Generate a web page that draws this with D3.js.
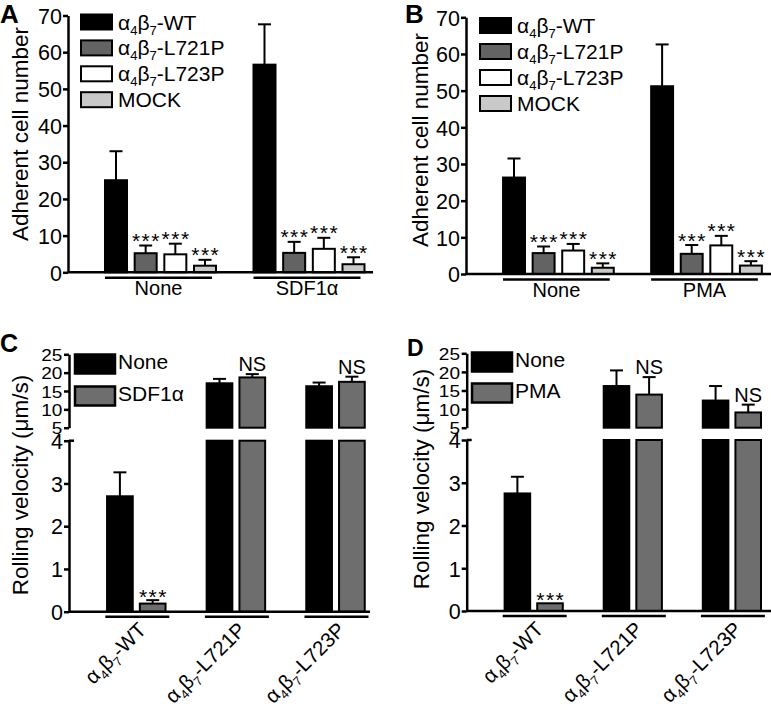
<!DOCTYPE html>
<html>
<head>
<meta charset="utf-8">
<script src="https://cdn.jsdelivr.net/npm/d3@7"></script>
<style>
html,body{margin:0;padding:0;background:#fff;}
svg{display:block;}
text{font-family:"Liberation Sans",Arial,Helvetica,sans-serif;fill:#000;}
</style>
</head>
<body>
<svg id="chart" width="771" height="710"></svg>
<script>
// ---------- DATA ----------
const seriesAB = ["α4β7-WT", "α4β7-L721P", "α4β7-L723P", "MOCK"];
const fillsAB = ["#000000", "#636363", "#ffffff", "#c9c9c9"];
const groupsA = ["None", "SDF1α"];
const meanA = [[25.1, 5.2, 4.9, 1.8], [56.6, 5.3, 6.4, 2.2]];
const errA = [[33.0, 7.3, 7.8, 3.4], [67.6, 8.3, 9.4, 4.1]];
const markA = [["", "***", "***", "***"], ["", "***", "***", "***"]];
const groupsB = ["None", "PMA"];
const meanB = [[26.3, 5.7, 6.4, 1.7], [51.2, 5.5, 7.8, 2.3]];
const errB = [[31.5, 7.5, 8.2, 2.9], [62.6, 7.9, 10.4, 3.5]];
const markB = [["", "***", "***", "***"], ["", "***", "***", "***"]];
const ticksAB = [0, 10, 20, 30, 40, 50, 60, 70];

const groupsCD = ["α4β7-WT", "α4β7-L721P", "α4β7-L723P"];
const fillsCD = ["#000000", "#6e6e6e"];
const seriesC = ["None", "SDF1α"];
const meanC = [[2.70, 0.19], [17.1, 18.7], [16.3, 17.5]];
const errC = [[3.26, 0.27], [18.3, 19.6], [17.3, 18.9]];
const markC = [["", "***"], ["", "NS"], ["", "NS"]];
const seriesD = ["None", "PMA"];
const meanD = [[2.75, 0.18], [16.2, 13.9], [12.3, 9.1]];
const errD = [[3.14, null], [20.4, 18.6], [16.2, 11.2]];
const markD = [["", "***"], ["", "NS"], ["", "NS"]];
const ticksLow = [0, 1, 2, 3, 4];
const ticksHigh = [5, 10, 15, 20, 25];

// ---------- HELPERS ----------
const svg = d3.select("#chart");
const FONT = "'Liberation Sans', Arial, Helvetica, sans-serif";

function richText(sel, str, subSize) {
  // digits right after α / β are subscripts
  const re = /([αβ])(\d)/g;
  let last = 0, m, lowered = false;
  const parts = [];
  while ((m = re.exec(str)) !== null) {
    parts.push({t: str.slice(last, m.index) + m[1], sub: false});
    parts.push({t: m[2], sub: true});
    last = m.index + m[0].length;
  }
  parts.push({t: str.slice(last), sub: false});
  parts.forEach(p => {
    if (!p.t) return;
    const ts = sel.append("tspan").text(p.t);
    if (p.sub) {
      ts.style("font-size", subSize + "px");
      if (!lowered) { ts.attr("dy", 5); lowered = true; }
    } else if (lowered) { ts.attr("dy", -5); lowered = false; }
  });
}

function errBar(g, cx, yTop, yBot) {
  g.append("line").attr("x1", cx).attr("x2", cx).attr("y1", yTop).attr("y2", yBot)
    .attr("stroke", "#000").attr("stroke-width", 2);
  g.append("line").attr("x1", cx - 6.5).attr("x2", cx + 6.5).attr("y1", yTop).attr("y2", yTop)
    .attr("stroke", "#000").attr("stroke-width", 2);
}

function styleAxis(ax, size) {
  ax.attr("font-family", FONT).attr("font-size", size);
  ax.select(".domain").attr("stroke-width", 2.5);
  ax.selectAll(".tick line").attr("stroke-width", 2.5);
  ax.selectAll(".tick text").style("font-size", size + "px").style("font-family", FONT).attr("dy", "0.36em");
}

// ---------- PANELS A / B ----------
function adhesionPanel(opt) {
  const g = svg.append("g");
  const y = d3.scaleLinear().domain([0, 70]).range([opt.y0, opt.y70]);
  const x0 = d3.scaleBand().domain(opt.groups).range(opt.xr).paddingInner(0.239).paddingOuter(0.1195);
  const x1 = d3.scaleBand().domain(seriesAB).range([0, x0.bandwidth()]).paddingInner(0.191).paddingOuter(0);

  const ax = g.append("g").attr("transform", `translate(${opt.axX},0)`)
    .call(d3.axisLeft(y).tickValues(ticksAB).tickFormat(d3.format("d")).tickSize(5).tickPadding(1).tickSizeOuter(0));
  styleAxis(ax, 21.5);

  opt.groups.forEach((grp, gi) => {
    seriesAB.forEach((s, si) => {
      const bx = x0(grp) + x1(s);
      const v = opt.mean[gi][si];
      g.append("rect").attr("x", bx + 1).attr("width", x1.bandwidth() - 2)
        .attr("y", y(v)).attr("height", y(0) - y(v))
        .attr("fill", fillsAB[si]).attr("stroke", "#000").attr("stroke-width", 2);
      const cx = bx + x1.bandwidth() / 2;
      const e = opt.err[gi][si];
      errBar(g, cx, y(e), y(v));
      if (opt.mark[gi][si]) {
        g.append("text").attr("x", cx + 0.75).attr("y", y(e) + 2.5).attr("text-anchor", "middle")
          .style("font-size", "21px").attr("letter-spacing", 1.5).text(opt.mark[gi][si]);
      }
    });
    const gx = x0(grp);
    g.append("line").attr("x1", gx + 1).attr("x2", gx + x0.bandwidth() - 5)
      .attr("y1", opt.y0 + 5.5).attr("y2", opt.y0 + 5.5).attr("stroke", "#000").attr("stroke-width", 2.5);
    g.append("text").attr("x", gx + x0.bandwidth() / 2 - 2).attr("y", opt.y0 + 23)
      .attr("text-anchor", "middle").style("font-size", "20px").text(grp);
  });

  g.append("line").attr("x1", opt.axX).attr("x2", opt.baseEnd).attr("y1", y(0)).attr("y2", y(0))
    .attr("stroke", "#000").attr("stroke-width", 2.5);

  g.append("text").attr("transform", `translate(${opt.titleX},${opt.titleY}) rotate(-90)`)
    .attr("text-anchor", "middle").style("font-size", "22.5px").text("Adherent cell number");

  seriesAB.forEach((s, si) => {
    const ly = opt.legY + si * opt.legStep;
    g.append("rect").attr("x", opt.legX).attr("y", ly).attr("width", 31).attr("height", 15)
      .attr("fill", fillsAB[si]).attr("stroke", "#000").attr("stroke-width", 2);
    const t = g.append("text").attr("x", opt.legX + 37).attr("y", ly + 15).style("font-size", "21px");
    richText(t, s, 13);
  });

  g.append("text").attr("x", opt.letX).attr("y", opt.letY).style("font-size", "26px")
    .attr("font-weight", "bold").text(opt.letter);
}

adhesionPanel({groups: groupsA, mean: meanA, err: errA, mark: markA,
  y0: 272.3, y70: 15.5, xr: [86.25, 383.25], axX: 68, baseEnd: 373,
  titleX: 28, titleY: 134, legX: 81, legY: 14.5, legStep: 25.9,
  letter: "A", letX: 0, letY: 23});
adhesionPanel({groups: groupsB, mean: meanB, err: errB, mark: markB,
  y0: 274, y70: 17.3, xr: [484.35, 780.55], axX: 466, baseEnd: 771,
  titleX: 428, titleY: 140, legX: 480, legY: 18, legStep: 26,
  letter: "B", letX: 405, letY: 23});

// ---------- PANELS C / D ----------
function rollingPanel(opt) {
  const g = svg.append("g");
  const yLow = d3.scaleLinear().domain([0, 4]).range([opt.y0, opt.y4]);
  const yHigh = d3.scaleLinear().domain([5, 25]).range([opt.y5, opt.y25]);
  const yv = v => v <= 4 ? yLow(v) : yHigh(v);
  const x0 = d3.scaleBand().domain(groupsCD).range(opt.xr).paddingInner(0.3926).paddingOuter(0.1963);
  const x1 = d3.scaleBand().domain(opt.series).range([0, x0.bandwidth()]).paddingInner(0.155).paddingOuter(0);

  const axL = g.append("g").attr("transform", `translate(${opt.axX},0)`)
    .call(d3.axisLeft(yLow).tickValues(ticksLow).tickFormat(d3.format("d")).tickSize(5).tickPadding(1).tickSizeOuter(0));
  const axH = g.append("g").attr("transform", `translate(${opt.axX},0)`)
    .call(d3.axisLeft(yHigh).tickValues(ticksHigh).tickFormat(d3.format("d")).tickSize(5).tickPadding(1).tickSizeOuter(0));
  styleAxis(axL, 21.5);
  styleAxis(axH, 17);
  axH.selectAll(".tick text").attr("transform", "scale(1.12,1)");
  // small cap to the right at top of lower segment
  g.append("line").attr("x1", opt.axX).attr("x2", opt.axX + 5).attr("y1", yLow(4)).attr("y2", yLow(4))
    .attr("stroke", "#000").attr("stroke-width", 2.5);

  groupsCD.forEach((grp, gi) => {
    opt.series.forEach((s, si) => {
      const bx = x0(grp) + x1(s);
      const bw = x1.bandwidth();
      const v = opt.mean[gi][si];
      if (v <= 4) {
        g.append("rect").attr("x", bx + 1).attr("width", bw - 2).attr("y", yLow(v)).attr("height", yLow(0) - yLow(v))
          .attr("fill", fillsCD[si]).attr("stroke", "#000").attr("stroke-width", 2);
      } else {
        g.append("rect").attr("x", bx + 1).attr("width", bw - 2).attr("y", yLow(4)).attr("height", yLow(0) - yLow(4))
          .attr("fill", fillsCD[si]).attr("stroke", "#000").attr("stroke-width", 2);
        g.append("rect").attr("x", bx + 1).attr("width", bw - 2).attr("y", yHigh(v)).attr("height", yHigh(5) - yHigh(v))
          .attr("fill", fillsCD[si]).attr("stroke", "#000").attr("stroke-width", 2);
      }
      const cx = bx + bw / 2;
      const e = opt.err[gi][si];
      if (e !== null) errBar(g, cx, yv(e), yv(v));
      const mk = opt.mark[gi][si];
      const top = e !== null ? yv(e) : yv(v);
      if (mk === "***") {
        g.append("text").attr("x", cx + 0.75).attr("y", top + 4).attr("text-anchor", "middle")
          .style("font-size", "21px").attr("letter-spacing", 1.5).text(mk);
      } else if (mk) {
        g.append("text").attr("x", cx).attr("y", top - 3).attr("text-anchor", "middle")
          .style("font-size", "20px").text(mk);
      }
    });
    const gc = x0(grp) + x0.bandwidth() / 2;
    g.append("line").attr("x1", gc - 31).attr("x2", gc + 33).attr("y1", opt.y0 + 5).attr("y2", opt.y0 + 5)
      .attr("stroke", "#000").attr("stroke-width", 2.5);
    const t = g.append("text").attr("transform", `translate(${gc + 11},${opt.y0 + 19.5}) rotate(-45)`)
      .attr("text-anchor", "end").style("font-size", "20.5px");
    richText(t, grp, 12.5);
  });

  g.append("line").attr("x1", opt.axX).attr("x2", opt.baseEnd).attr("y1", yLow(0)).attr("y2", yLow(0))
    .attr("stroke", "#000").attr("stroke-width", 2.5);

  g.append("text").attr("transform", `translate(${opt.titleX},${opt.titleY}) rotate(-90)`)
    .attr("text-anchor", "middle").style("font-size", "22.5px").text("Rolling velocity (μm/s)");

  opt.series.forEach((s, si) => {
    const ly = opt.legY + si * opt.legStep;
    g.append("rect").attr("x", opt.legX).attr("y", ly).attr("width", 40).attr("height", 19)
      .attr("fill", fillsCD[si]).attr("stroke", "#000").attr("stroke-width", 2.5);
    g.append("text").attr("x", opt.legX + 43).attr("y", ly + 14.5).style("font-size", "21px").text(s);
  });

  g.append("text").attr("x", opt.letX).attr("y", opt.letY).style("font-size", opt.letSize + "px")
    .attr("font-weight", "bold").text(opt.letter);
}

rollingPanel({series: seriesC, mean: meanC, err: errC, mark: markC,
  y0: 611.7, y4: 440.7, y5: 427.7, y25: 354.3, xr: [86.5, 385.3], axX: 69, baseEnd: 370,
  titleX: 28, titleY: 485, legX: 75, legY: 354.5, legStep: 32,
  letter: "C", letX: 0, letY: 352, letSize: 25});
rollingPanel({series: seriesD, mean: meanD, err: errD, mark: markD,
  y0: 611, y4: 440, y5: 427.7, y25: 353.3, xr: [484.15, 781.45], axX: 466.7, baseEnd: 771,
  titleX: 429, titleY: 479, legX: 472, legY: 352.5, legStep: 31,
  letter: "D", letX: 407, letY: 356, letSize: 23});
</script>
</body>
</html>
